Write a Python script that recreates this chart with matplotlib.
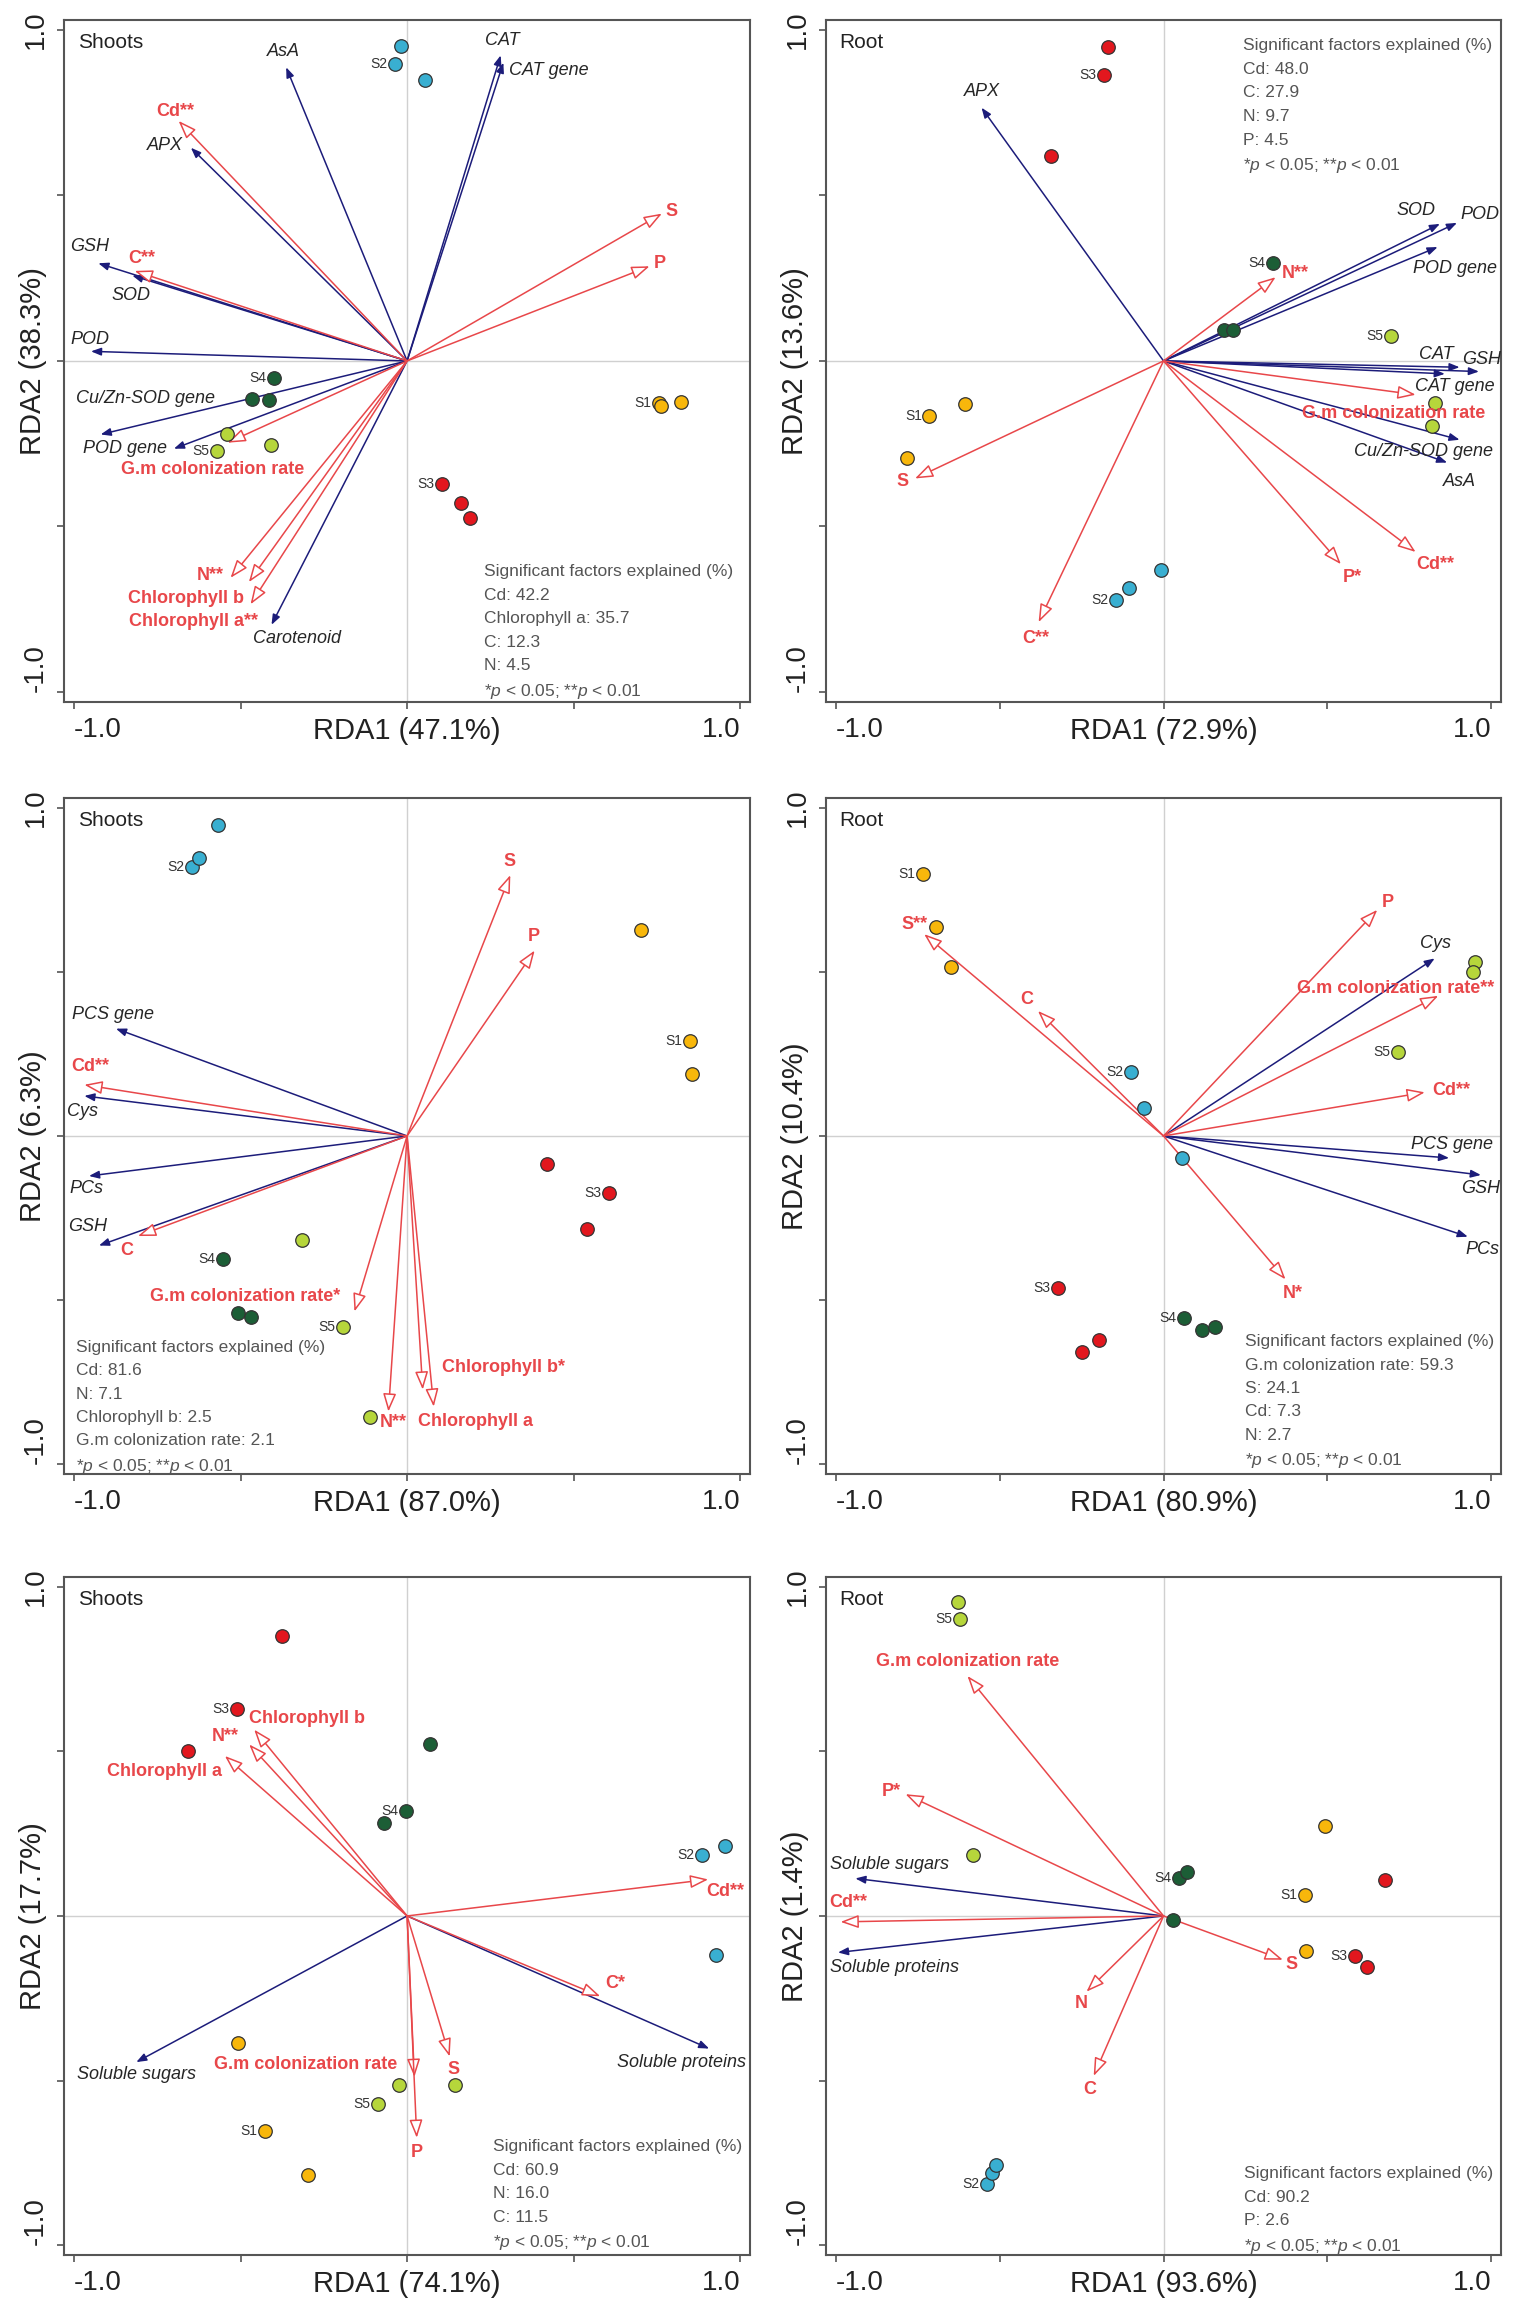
import matplotlib
matplotlib.use('Agg')
import matplotlib.pyplot as plt
from matplotlib.patches import FancyArrowPatch

plt.rcParams['font.family'] = ['Liberation Sans', 'DejaVu Sans']
plt.rcParams['mathtext.fontset'] = 'custom'
plt.rcParams['mathtext.it'] = 'Liberation Sans:italic'
plt.rcParams['mathtext.rm'] = 'Liberation Sans'

# ---- shared ----
site_names = ['S1', 'S2', 'S3', 'S4', 'S5']
site_colors = ['#f8b70b', '#39afd1', '#e2171e', '#1c5e36', '#b6d63b']
RED = '#e8474a'
NAVY = '#1c1c7a'
p_note = r'*$\it{p}$ < 0.05; **$\it{p}$ < 0.01'

# ---- panel 1: shoots, antioxidants ----
p1_title, p1_rda1, p1_rda2 = 'Shoots', 47.1, 38.3
p1_site_x = [0.757, 0.762, 0.823, -0.035, -0.018, 0.054, 0.105, 0.161, 0.190,
             -0.400, -0.466, -0.415, -0.571, -0.542, -0.410]
p1_site_y = [-0.127, -0.136, -0.124, 0.898, 0.951, 0.850, -0.371, -0.429, -0.473,
             -0.050, -0.115, -0.118, -0.271, -0.222, -0.253]
p1_resp = ['AsA', 'CAT', 'CAT gene', 'APX', 'GSH', 'SOD', 'POD', 'Cu/Zn-SOD gene', 'POD gene', 'Carotenoid']
p1_resp_x = [-0.363, 0.281, 0.289, -0.649, -0.927, -0.825, -0.949, -0.920, -0.700, -0.407]
p1_resp_y = [0.887, 0.923, 0.901, 0.644, 0.295, 0.258, 0.029, -0.222, -0.265, -0.797]
p1_env = ['Cd**', 'C**', 'S', 'P', 'G.m colonization rate', 'N**', 'Chlorophyll b', 'Chlorophyll a**']
p1_env_x = [-0.686, -0.818, 0.765, 0.728, -0.539, -0.530, -0.475, -0.470]
p1_env_y = [0.725, 0.272, 0.445, 0.286, -0.247, -0.655, -0.668, -0.735]
p1_sig = ['Cd: 42.2', 'Chlorophyll a: 35.7', 'C: 12.3', 'N: 4.5']

# ---- panel 2: root, antioxidants ----
p2_title, p2_rda1, p2_rda2 = 'Root', 72.9, 13.6
p2_site_x = [-0.714, -0.607, -0.781, -0.146, -0.104, -0.007, -0.183, -0.168, -0.342,
             0.333, 0.184, 0.211, 0.694, 0.828, 0.818]
p2_site_y = [-0.165, -0.129, -0.294, -0.721, -0.687, -0.632, 0.863, 0.949, 0.618,
             0.297, 0.095, 0.095, 0.076, -0.127, -0.197]
p2_resp = ['APX', 'SOD', 'POD', 'POD gene', 'CAT', 'GSH', 'CAT gene', 'Cu/Zn-SOD gene', 'AsA']
p2_resp_x = [-0.555, 0.843, 0.895, 0.836, 0.903, 0.962, 0.858, 0.903, 0.865]
p2_resp_y = [0.765, 0.414, 0.417, 0.344, -0.019, -0.032, -0.039, -0.238, -0.307]
p2_env = ['N**', 'S', 'C**', 'P*', 'Cd**', 'G.m colonization rate']
p2_env_x = [0.342, -0.758, -0.381, 0.541, 0.769, 0.769]
p2_env_y = [0.253, -0.355, -0.789, -0.614, -0.577, -0.102]
p2_sig = ['Cd: 48.0', 'C: 27.9', 'N: 9.7', 'P: 4.5']

# ---- panel 3: shoots, thiols ----
p3_title, p3_rda1, p3_rda2 = 'Shoots', 87.0, 6.3
p3_site_x = [0.848, 0.702, 0.854, -0.645, -0.626, -0.567, 0.607, 0.420, 0.541,
             -0.553, -0.509, -0.469, -0.193, -0.316, -0.110]
p3_site_y = [0.290, 0.629, 0.189, 0.820, 0.847, 0.948, -0.175, -0.086, -0.285,
             -0.376, -0.539, -0.553, -0.582, -0.316, -0.857]
p3_resp = ['PCS gene', 'Cys', 'PCs', 'GSH']
p3_resp_x = [-0.874, -0.969, -0.955, -0.925]
p3_resp_y = [0.327, 0.122, -0.122, -0.334]
p3_env = ['S', 'P', 'Cd**', 'C', 'G.m colonization rate*', 'N**', 'Chlorophyll b*', 'Chlorophyll a']
p3_env_x = [0.310, 0.383, -0.969, -0.808, -0.158, -0.056, 0.047, 0.080]
p3_env_y = [0.795, 0.565, 0.156, -0.305, -0.535, -0.840, -0.773, -0.825]
p3_sig = ['Cd: 81.6', 'N: 7.1', 'Chlorophyll b: 2.5', 'G.m colonization rate: 2.1']

# ---- panel 4: root, thiols ----
p4_title, p4_rda1, p4_rda2 = 'Root', 80.9, 10.4
p4_site_x = [-0.733, -0.693, -0.648, -0.100, -0.060, 0.055, -0.323, -0.197, -0.249,
             0.063, 0.116, 0.156, 0.715, 0.949, 0.943]
p4_site_y = [0.797, 0.637, 0.516, 0.196, 0.086, -0.067, -0.462, -0.622, -0.659,
             -0.556, -0.590, -0.582, 0.256, 0.529, 0.499]
p4_resp = ['Cys', 'PCS gene', 'GSH', 'PCs']
p4_resp_x = [0.827, 0.871, 0.968, 0.928]
p4_resp_y = [0.541, -0.067, -0.119, -0.307]
p4_env = ['P', 'S**', 'C', 'G.m colonization rate**', 'Cd**', 'N*']
p4_env_x = [0.652, -0.730, -0.383, 0.838, 0.797, 0.372]
p4_env_y = [0.689, 0.615, 0.381, 0.427, 0.133, -0.437]
p4_sig = ['G.m colonization rate: 59.3', 'S: 24.1', 'Cd: 7.3', 'N: 2.7']

# ---- panel 5: shoots, sugars/proteins ----
p5_title, p5_rda1, p5_rda2 = 'Shoots', 74.1, 17.7
p5_site_x = [-0.426, -0.509, -0.297, 0.885, 0.955, 0.927, -0.510, -0.375, -0.659,
             -0.004, 0.070, -0.069, -0.087, -0.025, 0.143]
p5_site_y = [-0.652, -0.385, -0.787, 0.185, 0.213, -0.119, 0.628, 0.849, 0.501,
             0.320, 0.521, 0.281, -0.570, -0.514, -0.514]
p5_resp = ['Soluble sugars', 'Soluble proteins']
p5_resp_x = [-0.813, 0.907]
p5_resp_y = [-0.444, -0.403]
p5_env = ['Chlorophyll b', 'N**', 'Chlorophyll a', 'Cd**', 'C*', 'S', 'G.m colonization rate', 'P']
p5_env_x = [-0.459, -0.474, -0.547, 0.904, 0.580, 0.128, 0.022, 0.029]
p5_env_y = [0.566, 0.521, 0.486, 0.111, -0.244, -0.427, -0.489, -0.674]
p5_sig = ['Cd: 60.9', 'N: 16.0', 'C: 11.5']

# ---- panel 6: root, sugars/proteins ----
p6_title, p6_rda1, p6_rda2 = 'Root', 93.6, 1.4
p6_site_x = [0.431, 0.493, 0.434, -0.538, -0.523, -0.511, 0.584, 0.621, 0.674,
             0.048, 0.073, 0.028, -0.620, -0.627, -0.580]
p6_site_y = [0.064, 0.274, -0.107, -0.815, -0.782, -0.756, -0.123, -0.156, 0.108,
             0.114, 0.133, -0.012, 0.901, 0.953, 0.185]
p6_resp = ['Soluble sugars', 'Soluble proteins']
p6_resp_x = [-0.940, -0.993]
p6_resp_y = [0.114, -0.111]
p6_env = ['G.m colonization rate', 'P*', 'Cd**', 'S', 'N', 'C']
p6_env_x = [-0.598, -0.787, -0.985, 0.364, -0.235, -0.213]
p6_env_y = [0.729, 0.370, -0.018, -0.133, -0.230, -0.486]
p6_sig = ['Cd: 90.2', 'P: 2.6']

# ---- label placement (layout only) ----
p1_resp_lab = [(-0.371, 0.934), (0.286, 0.968), (0.425, 0.876), (-0.727, 0.651), (-0.952, 0.346),
               (-0.829, 0.199), (-0.952, 0.066), (-0.785, -0.112), (-0.847, -0.265), (-0.331, -0.837)]
p1_env_lab = [(-0.697, 0.754), (-0.796, 0.308), (0.794, 0.452), (0.758, 0.295), (-0.583, -0.328),
              (-0.590, -0.649), (-0.664, -0.716), (-0.642, -0.788)]
p2_resp_lab = [(-0.555, 0.814), (0.769, 0.453), (0.965, 0.443), (0.888, 0.278), (0.833, 0.018),
               (0.970, 0.003), (0.888, -0.077), (0.794, -0.273), (0.903, -0.365)]
p2_env_lab = [(0.401, 0.263), (-0.796, -0.363), (-0.391, -0.838), (0.575, -0.655), (0.828, -0.614),
              (0.702, -0.158)]
p3_resp_lab = [(-0.882, 0.371), (-0.974, 0.074), (-0.962, -0.160), (-0.959, -0.275)]
p3_env_lab = [(0.307, 0.835), (0.380, 0.609), (-0.950, 0.211), (-0.842, -0.349), (-0.487, -0.490),
              (-0.041, -0.872), (0.288, -0.706), (0.205, -0.869)]
p4_resp_lab = [(0.831, 0.585), (0.879, -0.027), (0.968, -0.159), (0.972, -0.345)]
p4_env_lab = [(0.685, 0.711), (-0.760, 0.644), (-0.417, 0.415), (0.707, 0.449), (0.879, 0.138),
              (0.395, -0.479)]
p5_resp_lab = [(-0.813, -0.481), (0.824, -0.444)]
p5_env_lab = [(-0.299, 0.600), (-0.547, 0.545), (-0.729, 0.440), (0.955, 0.074), (0.624, -0.204),
              (0.138, -0.467), (-0.306, -0.452), (0.029, -0.719)]
p6_resp_lab = [(-0.836, 0.156), (-0.821, -0.156)]
p6_env_lab = [(-0.598, 0.773), (-0.829, 0.378), (-0.963, 0.041), (0.390, -0.148), (-0.250, -0.267),
              (-0.225, -0.526)]
sig_pos = [(0.230, -0.613), (0.241, 0.975), (-0.994, -0.621), (0.250, -0.604), (0.259, -0.679), (0.244, -0.760)]


def draw_panel(ax, title, rda1, rda2, sx, sy, rn, rx, ry, rlab, en, ex, ey, elab, sig, spos):
    ax.set_xlim(-1.03, 1.03)
    ax.set_ylim(-1.03, 1.03)
    ax.axhline(0, color='#d0d0d0', lw=1.0, zorder=0)
    ax.axvline(0, color='#d0d0d0', lw=1.0, zorder=0)

    for name, x, y, (lx, ly) in zip(rn, rx, ry, rlab):
        ax.add_patch(FancyArrowPatch((0, 0), (x, y), arrowstyle='-|>,head_length=6,head_width=2.3',
                                     mutation_scale=1, color=NAVY, lw=1.1, shrinkA=0, shrinkB=0, zorder=2))
        ax.text(lx, ly, name, style='italic', fontsize=13, color='#262626', ha='center', va='center', zorder=6)

    for name, x, y, (lx, ly) in zip(en, ex, ey, elab):
        ax.add_patch(FancyArrowPatch((0, 0), (x, y), arrowstyle='-|>,head_length=11,head_width=4',
                                     mutation_scale=1, ec=RED, fc='white', lw=1.1, shrinkA=0, shrinkB=0, zorder=3))
        ax.text(lx, ly, name, fontweight='bold', fontsize=13, color=RED, ha='center', va='center', zorder=6)

    for k in range(5):
        xs = sx[3 * k:3 * k + 3]
        ys = sy[3 * k:3 * k + 3]
        ax.scatter(xs, ys, s=95, c=site_colors[k], edgecolors='#333333', linewidths=0.9, zorder=4)
        ax.annotate(site_names[k], (xs[0], ys[0]), xytext=(-5.5, 0), textcoords='offset points',
                    ha='right', va='center', fontsize=10, color='#333333', zorder=5)

    lines = ['Significant factors explained (%)'] + sig + [p_note]
    for i, line in enumerate(lines):
        ax.text(spos[0], spos[1] - i * 0.0713, line, fontsize=12.5, color='#555555', ha='left', va='top', zorder=6)

    ax.text(0.02, 0.967, title, transform=ax.transAxes, fontsize=15, color='#222222', ha='left', va='center')

    ax.set_xticks([-1, -0.5, 0, 0.5, 1])
    ax.set_xticklabels(['-1.0', '', '', '', '1.0'], fontsize=20, color='#222222')
    ax.set_yticks([-1, -0.5, 0, 0.5, 1])
    ax.set_yticklabels(['-1.0', '', '', '', '1.0'], fontsize=20, color='#222222', rotation=90)
    xl = ax.get_xticklabels()
    xl[0].set_ha('left')
    xl[-1].set_ha('right')
    yl = ax.get_yticklabels()
    yl[0].set_va('bottom')
    yl[-1].set_va('center')
    ax.tick_params(direction='out', length=5, width=1.2, color='#555555', pad=6)
    for sp in ax.spines.values():
        sp.set_color('#555555')
        sp.set_linewidth(1.5)

    ax.set_xlabel('RDA1 (%.1f%%)' % rda1, fontsize=21, color='#222222')
    ax.xaxis.set_label_coords(0.5, -0.022)
    ax.set_ylabel('RDA2 (%.1f%%)' % rda2, fontsize=21, color='#222222')
    ax.yaxis.set_label_coords(-0.025, 0.5)


fig = plt.figure(figsize=(15.35, 23.19), dpi=100)
cols = [(0.0417, 0.447), (0.538, 0.440)]
rows = [(0.6973, 0.2941), (0.3644, 0.2915), (0.0276, 0.2924)]

panels = [
    (p1_title, p1_rda1, p1_rda2, p1_site_x, p1_site_y, p1_resp, p1_resp_x, p1_resp_y, p1_resp_lab,
     p1_env, p1_env_x, p1_env_y, p1_env_lab, p1_sig),
    (p2_title, p2_rda1, p2_rda2, p2_site_x, p2_site_y, p2_resp, p2_resp_x, p2_resp_y, p2_resp_lab,
     p2_env, p2_env_x, p2_env_y, p2_env_lab, p2_sig),
    (p3_title, p3_rda1, p3_rda2, p3_site_x, p3_site_y, p3_resp, p3_resp_x, p3_resp_y, p3_resp_lab,
     p3_env, p3_env_x, p3_env_y, p3_env_lab, p3_sig),
    (p4_title, p4_rda1, p4_rda2, p4_site_x, p4_site_y, p4_resp, p4_resp_x, p4_resp_y, p4_resp_lab,
     p4_env, p4_env_x, p4_env_y, p4_env_lab, p4_sig),
    (p5_title, p5_rda1, p5_rda2, p5_site_x, p5_site_y, p5_resp, p5_resp_x, p5_resp_y, p5_resp_lab,
     p5_env, p5_env_x, p5_env_y, p5_env_lab, p5_sig),
    (p6_title, p6_rda1, p6_rda2, p6_site_x, p6_site_y, p6_resp, p6_resp_x, p6_resp_y, p6_resp_lab,
     p6_env, p6_env_x, p6_env_y, p6_env_lab, p6_sig),
]

for i, args in enumerate(panels):
    r, c = divmod(i, 2)
    ax = fig.add_axes([cols[c][0], rows[r][0], cols[c][1], rows[r][1]])
    draw_panel(ax, *args, sig_pos[i])

fig.savefig('out.png', dpi=100)
